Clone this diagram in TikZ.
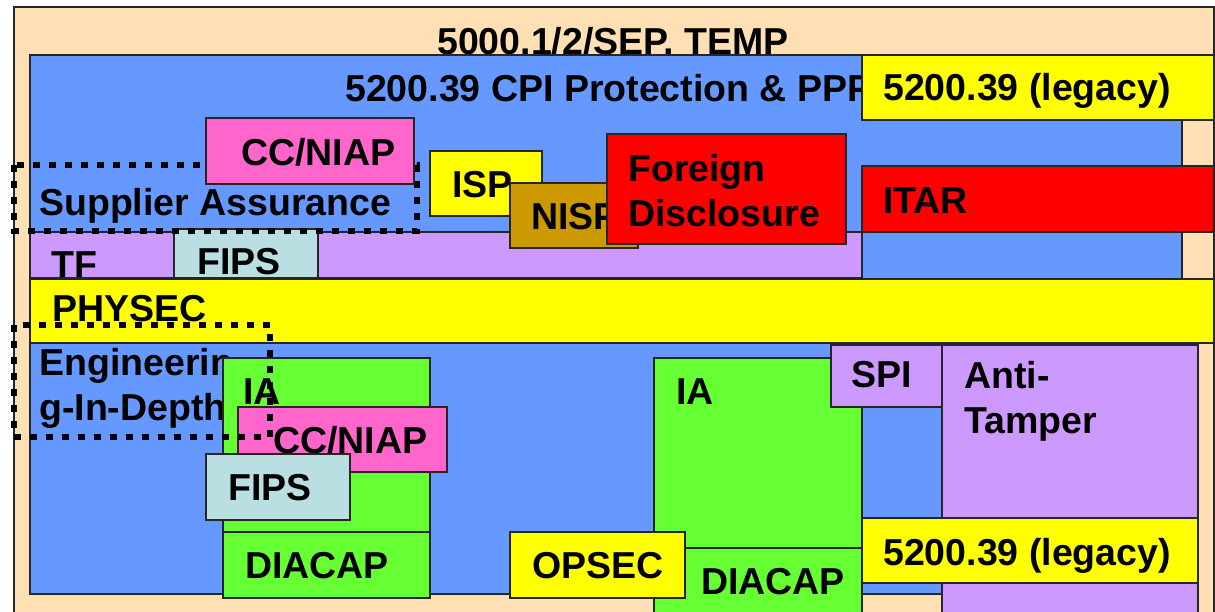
\documentclass[tikz,border=0pt]{standalone}
\usepackage{fontspec}
\setmainfont{Liberation Sans}
\usepackage{tikz}
\usetikzlibrary{positioning}
\definecolor{peach}{HTML}{FFE0B5}
\definecolor{cpiblue}{HTML}{6699FF}
\definecolor{lilac}{HTML}{CC99FF}
\definecolor{fipsteal}{HTML}{B9DFE2}
\definecolor{grass}{HTML}{66FF33}
\definecolor{nispbrown}{HTML}{CC9900}
\definecolor{niappink}{HTML}{FF66CC}
\definecolor{legyellow}{HTML}{FFFF00}
\definecolor{itarred}{HTML}{FF0000}
\tikzset{
  blk/.style={draw=black!85,line width=1.2pt},
  lbl/.style={anchor=base west,inner sep=0pt,align=left,font=\bfseries\fontsize{37.5}{45}\selectfont},
  dotbox/.style={draw=black,line width=6.5pt,dash pattern=on 7pt off 9pt},
}
\begin{document}
\begin{tikzpicture}[x=1pt,y=-1pt]
\clip (0,0) rectangle (1215,611);
\fill[white] (0,0) rectangle (1215,611);
% outer and CPI frames
\draw[blk,fill=peach] (14,7) rectangle (1214,640);
\node[lbl] (temp) at (437,54) {5000.1/2/SEP, TEMP};
\draw[blk,fill=cpiblue] (30,55) rectangle (1182,594);
\node[lbl] (cpi) at (345,101) {5200.39 CPI Protection \& PPP};
\draw[blk,fill=legyellow] (862,55) rectangle (1214,120);
\node[lbl] (legtop) at (883,100) {5200.39 (legacy)};
% upper row
\draw[blk,fill=lilac] (30,232) rectangle (862,278);
\node[lbl] (tf) at (51,277) {TF};
\draw[blk,fill=fipsteal] (174,229) rectangle (318,278);
\node[lbl] (fipstop) at (197,274) {FIPS};
\node[lbl] (supp) at (39,215) {Supplier Assurance};
\draw[dotbox] (14,165) rectangle (417,231);
\draw[blk,fill=niappink] (206,118) rectangle (414,184);
\node[lbl] (niaptop) at (241,165) {CC/NIAP};
\draw[blk,fill=legyellow] (430,151) rectangle (542,216);
\node[lbl] (isp) at (452,197) {ISP};
\draw[blk,fill=nispbrown] (510,183) rectangle (638,248);
\node[lbl] (nisp) at (531,229) {NISP};
\draw[blk,fill=itarred] (607,134) rectangle (846,244);
\node[lbl] (fd) at (628,226) {Foreign\\Disclosure};
\draw[blk,fill=itarred] (862,166) rectangle (1214,232);
\node[lbl] (itar) at (883,213) {ITAR};
\draw[blk,fill=legyellow] (30,279) rectangle (1214,343);
\node[lbl] (physec) at (52,321) {PHYSEC};
% lower left
\node[lbl] (eid) at (39,420) {Engineerin\\g-In-Depth};
\draw[blk,fill=grass] (223,358) rectangle (430,532);
\node[lbl] (ialeft) at (243,404) {IA};
\draw[blk,fill=grass] (223,532) rectangle (430,598);
\node[lbl] (diaLeft) at (245,578) {DIACAP};
\draw[blk,fill=niappink] (238,407) rectangle (447,472);
\node[lbl] (niaplow) at (273,453) {CC/NIAP};
\draw[blk,fill=fipsteal] (206,454) rectangle (350,520);
\node[lbl] (fipslow) at (228,500) {FIPS};
\draw[dotbox] (14,325) rectangle (270,437);
% lower right
\draw[blk,fill=grass] (654,358) rectangle (862,640);
\node[lbl] (iaright) at (676,404) {IA};
\draw[blk,fill=grass] (654,548) rectangle (862,640);
\node[lbl] (diaRight) at (701,594) {DIACAP};
\draw[blk,fill=legyellow] (510,532) rectangle (685,598);
\node[lbl] (opsec) at (532,578) {OPSEC};
\draw[blk,fill=lilac] (831,345) rectangle (942,407);
\node[lbl] (spi) at (851,387) {SPI};
\draw[blk,fill=lilac] (942,345) rectangle (1198,640);
\node[lbl] (at) at (964,433) {Anti-\\Tamper};
\draw[blk,fill=legyellow] (862,518) rectangle (1198,583);
\node[lbl] (legbot) at (883,565) {5200.39 (legacy)};
\end{tikzpicture}
\end{document}
